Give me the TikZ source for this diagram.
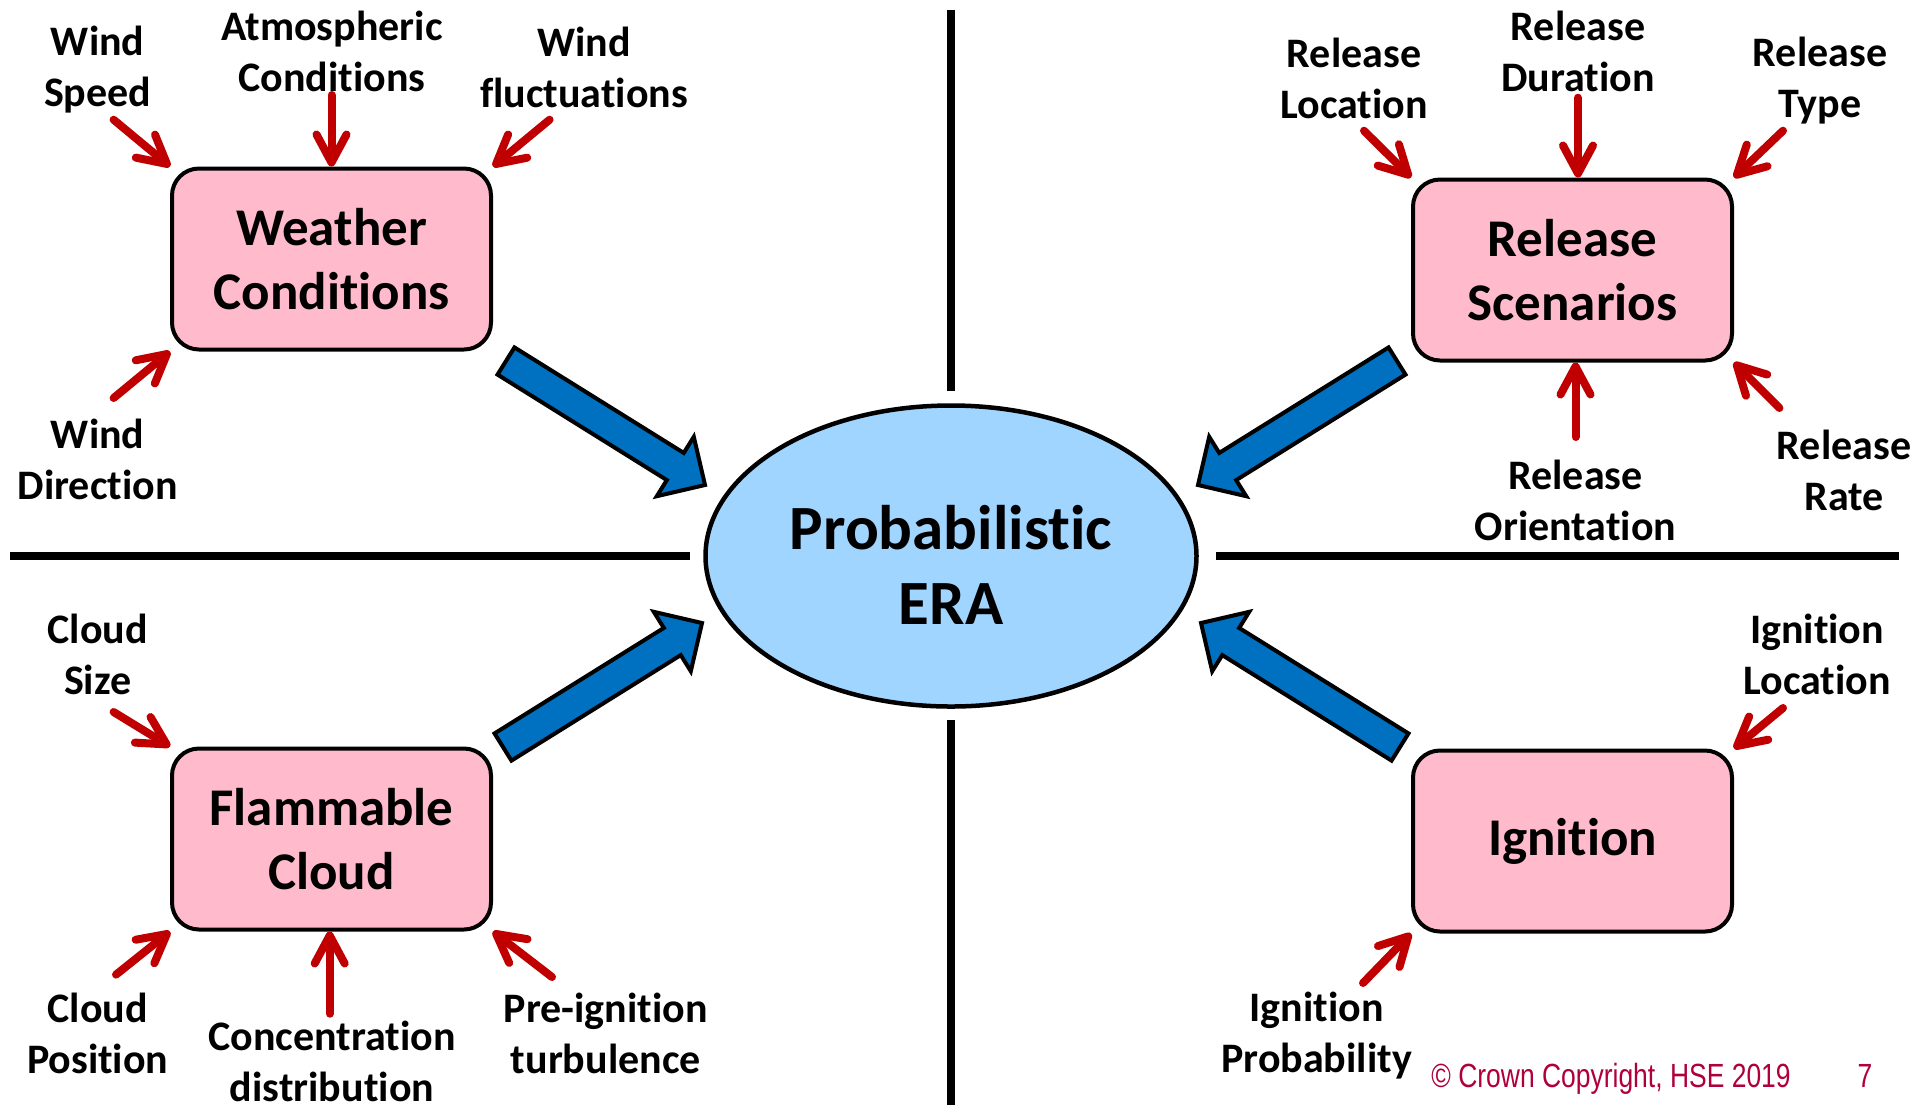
\documentclass[tikz,border=0pt]{standalone}
\usepackage{fontspec}
\setmainfont{Carlito}[Ligatures={NoCommon,NoContextual,NoRare},Contextuals=NoAlternate]
\newfontfamily\notefont{Liberation Sans}
\usepackage{graphicx}
\usetikzlibrary{shapes.geometric,arrows.meta,calc}

\definecolor{boxpink}{RGB}{255,187,204}
\definecolor{erablue}{RGB}{160,213,255}
\definecolor{flowblue}{RGB}{0,112,192}
\definecolor{inred}{RGB}{192,0,0}
\definecolor{notered}{RGB}{176,0,58}

% block arrow from tail centre #1 to tip #2
\newcommand\flowarrow[2]{%
  \coordinate (fa-base) at ($(#2)!17.5pt!(#1)$);
  \draw[flow] ($(#1)!8pt!90:(#2)$) -- ($(fa-base)!8pt!90:(#2)$)
    -- ($(fa-base)!17.5pt!90:(#2)$) -- (#2)
    -- ($(fa-base)!17.5pt!-90:(#2)$) -- ($(fa-base)!8pt!-90:(#2)$)
    -- ($(#1)!8pt!-90:(#2)$) -- cycle;
}

\begin{document}
\begin{tikzpicture}[x=0.5pt,y=-0.5pt,
  factor/.style={draw=black, line width=2pt, fill=boxpink,
    rounded corners=13.5pt, minimum width=159.5pt, minimum height=90.5pt,
    inner sep=0pt, align=center,
    font=\fontsize{26.5}{31.75}\selectfont\bfseries},
  era/.style={ellipse, draw=black, line width=2.25pt, fill=erablue,
    minimum width=245.5pt, minimum height=150.5pt, inner sep=0pt},
  eratext/.style={align=center, inner sep=0pt,
    font=\fontsize{31.5}{37.25}\selectfont\bfseries},
  lbl/.style={align=center, inner sep=0pt,
    font=\fontsize{21}{25.5}\selectfont\bfseries},
  inarrow/.style={draw=inred, line width=4pt, line cap=round,
    -{Straight Barb[length=14pt,width=15pt,round]}},
  divider/.style={draw=black, line width=4pt},
  flow/.style={draw=black, line width=2pt, fill=flowblue, line join=miter},
  note/.style={inner sep=0pt, text=notered,
    font=\notefont\fontsize{16.75}{20}\selectfont},
]
\useasboundingbox (0,0) rectangle (1915,1105);

% quadrant dividers
\coordinate (vt1) at (951,10);   \coordinate (vt2) at (951,391);
\coordinate (vb1) at (951,720);  \coordinate (vb2) at (951,1105);
\coordinate (hl1) at (10,556);   \coordinate (hl2) at (690,556);
\coordinate (hr1) at (1216,556); \coordinate (hr2) at (1899,556);
\draw[divider] (vt1) -- (vt2);
\draw[divider] (vb1) -- (vb2);
\draw[divider] (hl1) -- (hl2);
\draw[divider] (hr1) -- (hr2);

% central assessment
\node[era] (era) at (951,556) {};
\node[eratext] (eratxt) at (951,565) {Probabilistic\\ERA};

% the four contributing groups
\node[factor] (wc) at (331.5,259) {Weather\\Conditions};
\node[factor] (rs) at (1572.5,270) {Release\\Scenarios};
\node[factor] (fc) at (331.5,839) {Flammable\\Cloud};
\node[factor] (ig) at (1572.5,841) {Ignition};

% block arrows into the assessment
\coordinate (tl-tail) at (506,361);  \coordinate (tl-tip) at (705,485);
\coordinate (tr-tail) at (1397,361); \coordinate (tr-tip) at (1198,485);
\coordinate (bl-tail) at (503,747);  \coordinate (bl-tip) at (702,623);
\coordinate (br-tail) at (1400,747); \coordinate (br-tip) at (1201,623);
\flowarrow{tl-tail}{tl-tip}
\flowarrow{tr-tail}{tr-tip}
\flowarrow{bl-tail}{bl-tip}
\flowarrow{br-tail}{br-tip}

% weather factors
\node[lbl] (wspeed) at (97.7,70) {Wind\\Speed};
\node[lbl] (watm) at (332,51) {Atmospheric\\Conditions};
\node[lbl] (wfluct) at (584,67) {Wind\\fluctuations};
\node[lbl] (wdir) at (97.7,459) {Wind\\Direction};
\coordinate (a-wspeed) at (113.6,119.7);
\coordinate (a-watm) at (331.5,95);
\coordinate (a-wfluct) at (549.6,119.7);
\coordinate (a-wdir) at (113.6,398);
\draw[inarrow] (a-wspeed) -- (wc.north west);
\draw[inarrow] (a-watm) -- (wc.north);
\draw[inarrow] (a-wfluct) -- (wc.north east);
\draw[inarrow] (a-wdir) -- (wc.south west);

% release factors
\node[lbl] (rloc) at (1354,78) {Release\\Location};
\node[lbl] (rdur) at (1578,51) {Release\\Duration};
\node[lbl] (rtype) at (1820,81) {Release\\Type};
\node[lbl] (rori) at (1575.5,500.7) {Release\\Orientation};
\node[lbl] (rrate) at (1844,470) {Release\\Rate};
\coordinate (a-rloc) at (1364,130.7);
\coordinate (a-rdur) at (1578,97.7);
\coordinate (a-rtype) at (1783,130.7);
\coordinate (a-rori) at (1575.5,437);
\coordinate (a-rrate) at (1779.4,408);
\draw[inarrow] (a-rloc) -- (rs.north west);
\draw[inarrow] (a-rdur) -- (rs.north -| a-rdur);
\draw[inarrow] (a-rtype) -- (rs.north east);
\draw[inarrow] (a-rori) -- (rs.south -| a-rori);
\draw[inarrow] (a-rrate) -- (rs.south east);

% flammable cloud factors
\node[lbl] (csize) at (97.7,654.6) {Cloud\\Size};
\node[lbl] (cpos) at (97.7,1033) {Cloud\\Position};
\node[lbl] (cconc) at (332,1061) {Concentration\\distribution};
\node[lbl] (cturb) at (605.8,1033) {Pre-ignition\\turbulence};
\coordinate (a-csize) at (113.6,712);
\coordinate (a-cpos) at (116,974.6);
\coordinate (a-cconc) at (329.7,1013.7);
\coordinate (a-cturb) at (552,977);
\draw[inarrow] (a-csize) -- (fc.north west);
\draw[inarrow] (a-cpos) -- (fc.south west);
\draw[inarrow] (a-cconc) -- (fc.south -| a-cconc);
\draw[inarrow] (a-cturb) -- (fc.south east);

% ignition factors
\node[lbl] (iloc) at (1817,654.6) {Ignition\\Location};
\node[lbl] (iprob) at (1316.6,1036) {Ignition\\Probability};
\coordinate (a-iloc) at (1783,708);
\coordinate (a-iprob) at (1363,983);
\draw[inarrow] (a-iloc) -- (ig.north east);
\draw[inarrow] (a-iprob) -- (ig.south west);

% footer
\node[note, anchor=base west] (copy) at (1431,1087)
  {\scalebox{0.79}[1]{© Crown Copyright, HSE 2019}};
\node[note, anchor=base] (pageno) at (1865,1087) {\scalebox{0.79}[1]{7}};
\end{tikzpicture}
\end{document}
